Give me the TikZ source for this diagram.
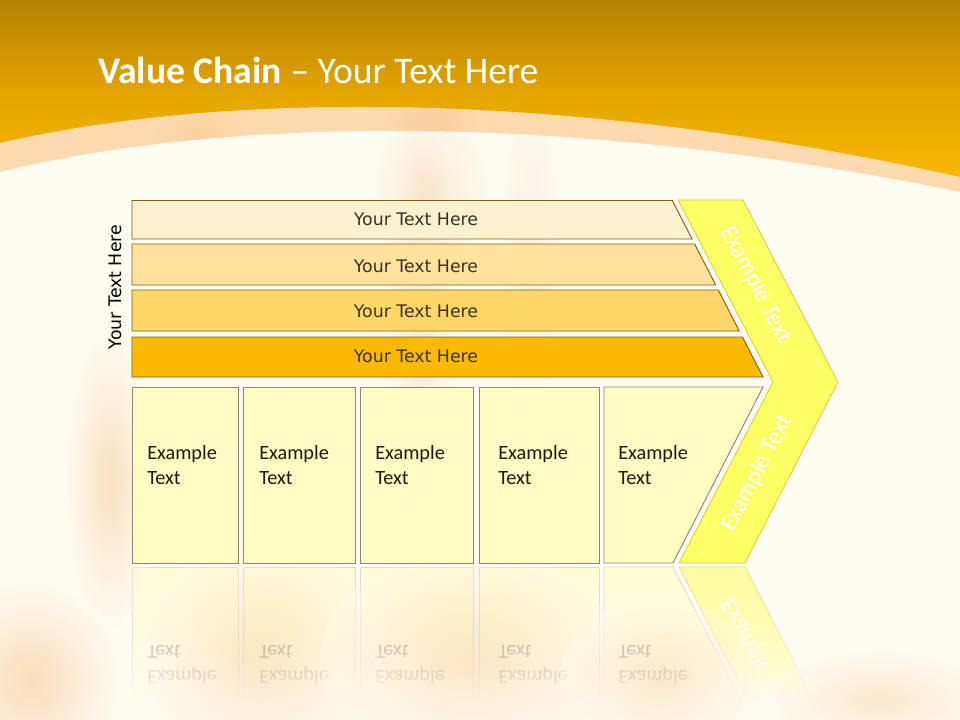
\documentclass[tikz,border=0pt]{standalone}
\usepackage{fontspec}
\setmainfont{Carlito}
\newfontfamily\dejavu{DejaVu Sans}
\definecolor{bgcream}{HTML}{FFFCF1}
\definecolor{topdark}{HTML}{B48200}
\definecolor{topmid}{HTML}{E6A700}
\definecolor{toporange}{HTML}{FFBC00}
\definecolor{bandpeach}{HTML}{FCDAAE}
\definecolor{flame}{HTML}{F6B878}
\definecolor{flamered}{HTML}{F2A08A}
\definecolor{barline}{HTML}{7F6010}
\definecolor{barA}{HTML}{FFF0D0}
\definecolor{barB}{HTML}{FFE29C}
\definecolor{barC}{HTML}{FFD766}
\definecolor{barD}{HTML}{FFBA00}
\definecolor{boxfill}{HTML}{FFFDC4}
\definecolor{boxline}{HTML}{858585}
\definecolor{chevfill}{HTML}{FFFF66}
\definecolor{chevline}{HTML}{C9C936}
\definecolor{bartext}{HTML}{3A3226}
\definecolor{boxtext}{HTML}{1E1A0A}
\begin{document}
\begin{tikzpicture}[x=0.75pt,y=-0.75pt,
  barshape/.style={draw=barline, line width=0.7pt},
  boxshape/.style={draw=boxline, fill=boxfill, line width=0.7pt},
  chevshape/.style={draw=chevline, fill=chevfill, line width=0.5pt},
  bartxt/.style={font=\dejavu\fontsize{13}{15}\selectfont, text=bartext, inner sep=0pt},
  boxtxt/.style={font=\fontsize{15.2}{18.8}\selectfont, text=boxtext, align=left, anchor=west, inner sep=0pt},
  chevtxt/.style={font=\fontsize{18}{21}\selectfont, text=white, inner sep=0pt},
  softspot/.style={inner color=#1, outer color=bgcream},
  bandspot/.style={inner color=#1, outer color=bandpeach}]
\useasboundingbox (0,0) rectangle (960,720);
\clip (0,0) rectangle (960,720);
% header
\shade[top color=topdark, bottom color=toporange, middle color=topmid] (0,0) rectangle (960,200);
\fill[bandpeach] (0,143) .. controls (220,92) and (560,88) .. (960,177) -- (960,200) -- (0,200) -- cycle;
\begin{scope}
  \clip (0,143) .. controls (220,92) and (560,88) .. (960,177) -- (960,200) -- (0,200) -- cycle;
  \shade[bandspot=flame, opacity=0.4] (430,140) ellipse (50 and 60);
  \shade[bandspot=flame, opacity=0.3] (200,150) ellipse (50 and 50);
\end{scope}
% cream area
\fill[bgcream] (0,172) .. controls (220,118) and (560,110) .. (960,192) -- (960,720) -- (0,720) -- cycle;
% reflection
\begin{scope}[yshift=-847.5pt, yscale=-1]
  \begin{scope}[opacity=0.55]
  \draw[boxshape, draw=boxline!50] (132,387) rectangle (238,563);
  \draw[boxshape, draw=boxline!50] (243,387) rectangle (355,563);
  \draw[boxshape, draw=boxline!50] (360,387) rectangle (473,563);
  \draw[boxshape, draw=boxline!50] (479,387) rectangle (599,563);
  \draw[boxshape, draw=boxline!50] (604,387) -- (763,387) -- (673,563) -- (604,563) -- cycle;
  \draw[chevshape] (678,200) -- (743,200) -- (838,382) -- (745,563) -- (679,563) -- (773,382) -- cycle;
  \end{scope}
  \node[boxtxt, transform shape, text=black!42] (r1) at (147,465) {Example\\Text};
  \node[boxtxt, transform shape, text=black!42] (r2) at (259,465) {Example\\Text};
  \node[boxtxt, transform shape, text=black!42] (r3) at (375,465) {Example\\Text};
  \node[boxtxt, transform shape, text=black!42] (r4) at (498,465) {Example\\Text};
  \node[boxtxt, transform shape, text=black!42] (r5) at (618,465) {Example\\Text};
  \node[chevtxt, transform shape, rotate=62.5] (r6) at (757,473) {Example Text};
\end{scope}
% fade of the reflection
\foreach \i in {0,...,40}{
  \pgfmathsetmacro\op{min(1,(\i/34)^1.7)}
  \fill[bgcream, opacity=\op] (100,566+4*\i) rectangle (900,570+4*\i);
}
% soft flame background
\begin{scope}
  \clip (0,172) .. controls (220,118) and (560,110) .. (960,192) -- (960,720) -- (0,720) -- cycle;
  \shade[softspot=flame, opacity=0.4] (110,480) ellipse (45 and 150);
  \shade[softspot=flame, opacity=0.45] (30,680) ellipse (90 and 100);
  \shade[softspot=flame, opacity=0.3] (260,660) ellipse (120 and 120);
  \shade[softspot=flamered, opacity=0.2] (420,330) ellipse (35 and 240);
  \shade[softspot=flame, opacity=0.3] (470,660) ellipse (150 and 110);
  \shade[softspot=flame, opacity=0.28] (660,680) ellipse (100 and 80);
  \shade[softspot=flamered, opacity=0.15] (530,250) ellipse (30 and 160);
  \shade[softspot=flame, opacity=0.3] (880,700) ellipse (110 and 50);
  \shade[softspot=flame, opacity=0.25] (430,190) ellipse (60 and 80);
\end{scope}
\node[anchor=base west, text=white, inner sep=0pt, font=\fontsize{28.2}{32}\selectfont] (title) at (98,84) {\textbf{Value Chain} – Your Text Here};
% bars
\draw[barshape, fill=barA] (132,200.5) -- (672.3,200.5) -- (692.1,239) -- (132,239) -- cycle;
\draw[barshape, fill=barB] (132,244) -- (694.6,244) -- (715.7,285) -- (132,285) -- cycle;
\draw[barshape, fill=barC] (132,290) -- (718.3,290) -- (739.3,331) -- (132,331) -- cycle;
\draw[barshape, fill=barD] (132,337) -- (742.4,337) -- (763,377) -- (132,377) -- cycle;
\node[bartxt] (t1) at (416,219) {Your Text Here};
\node[bartxt] (t2) at (416,266) {Your Text Here};
\node[bartxt] (t3) at (416,311) {Your Text Here};
\node[bartxt] (t4) at (416,356) {Your Text Here};
\node[bartxt, text=black, rotate=90] (side) at (115,287) {Your Text Here};
% boxes
\draw[boxshape] (132,387) rectangle (238,563);
\draw[boxshape] (243,387) rectangle (355,563);
\draw[boxshape] (360,387) rectangle (473,563);
\draw[boxshape] (479,387) rectangle (599,563);
\draw[boxshape] (604,387) -- (763,387) -- (673,563) -- (604,563) -- cycle;
\node[boxtxt] (e1) at (147,465) {Example\\Text};
\node[boxtxt] (e2) at (259,465) {Example\\Text};
\node[boxtxt] (e3) at (375,465) {Example\\Text};
\node[boxtxt] (e4) at (498,465) {Example\\Text};
\node[boxtxt] (e5) at (618,465) {Example\\Text};
% chevron
\draw[chevshape] (678,200) -- (743,200) -- (838,382) -- (745,563) -- (679,563) -- (773,382) -- cycle;
\node[chevtxt, rotate=-62.5] (c1) at (756,285) {Example Text};
\node[chevtxt, rotate=62.5] (c2) at (757,473) {Example Text};
\end{tikzpicture}
\end{document}
